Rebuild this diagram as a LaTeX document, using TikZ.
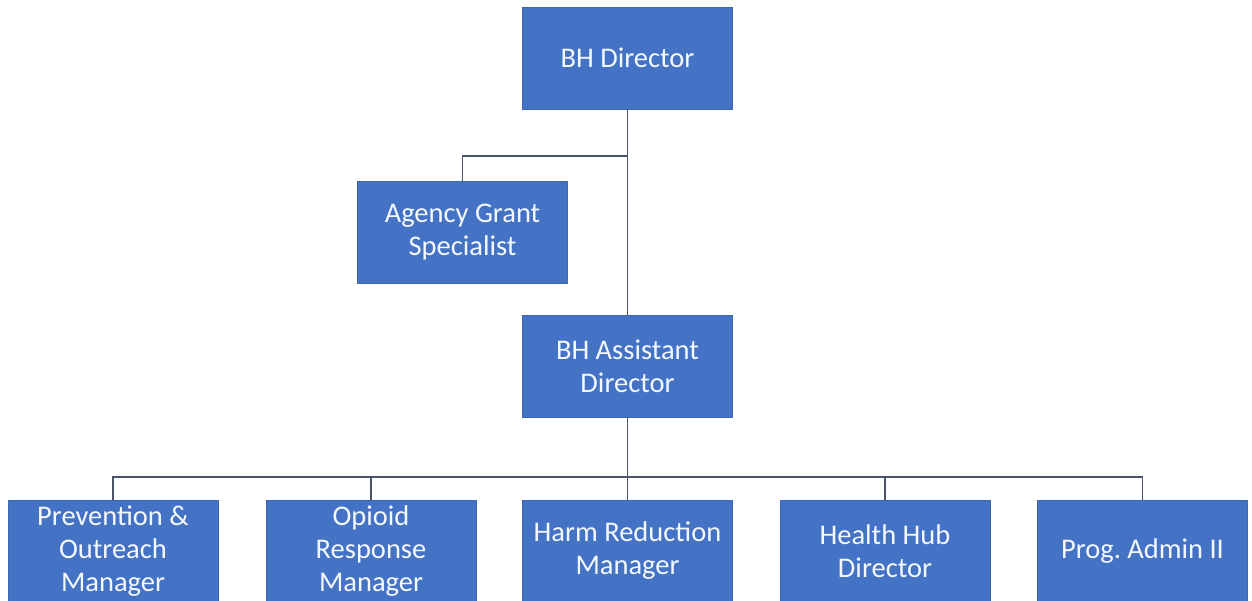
\documentclass[tikz,border=0pt]{standalone}
\usepackage{fontspec}
\setmainfont{Carlito}
\definecolor{boxblue}{HTML}{4472C4}
\definecolor{linegray}{HTML}{4A5468}
\definecolor{textwhite}{HTML}{F4F8FF}
\begin{document}
\begin{tikzpicture}[x=1pt,y=-1pt,
  orgbox/.style={fill=boxblue,draw=boxblue!90!black,line width=0.6pt,text=textwhite,minimum width=210pt,minimum height=102pt,inner sep=2pt,align=center,font=\fontsize{28.5}{33}\selectfont},
  link/.style={draw=linegray,line width=1.9pt}]
\useasboundingbox (0,0) rectangle (1252,601);
\node[orgbox] (dir) at (627.5,58) {BH Director};
\node[orgbox] (agency) at (462.5,232.5) {Agency Grant\\Specialist};
\node[orgbox] (asst) at (627.5,366) {BH Assistant\\Director};
\node[orgbox] (prev) at (113,551) {Prevention \&\\Outreach\\Manager};
\node[orgbox] (opioid) at (371,551) {Opioid\\Response\\Manager};
\node[orgbox] (harm) at (627.5,551) {Harm Reduction\\Manager};
\node[orgbox] (hub) at (885,551) {Health Hub\\Director};
\node[orgbox] (prog) at (1142.5,551) {Prog.\ Admin II};
\coordinate (br) at (627.5,156);
\coordinate (bus) at (627.5,477);
\draw[link] (dir.south) -- (asst.north);
\draw[link] (br) -| (agency.north);
\draw[link] (asst.south) -- (bus);
\draw[link] (bus) -| (prev.north);
\draw[link] (bus) -| (opioid.north);
\draw[link] (bus) -- (harm.north);
\draw[link] (bus) -| (hub.north);
\draw[link] (bus) -| (prog.north);
\end{tikzpicture}
\end{document}
